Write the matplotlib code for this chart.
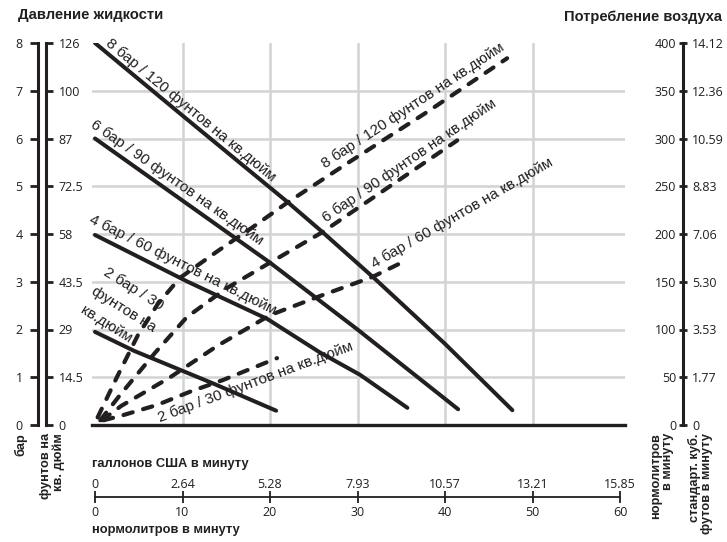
import numpy as np
import matplotlib
matplotlib.use('Agg')
import matplotlib.pyplot as plt
from matplotlib import font_manager as fm

# ---- data -------------------------------------------------------------
# fluid pressure (bar) vs flow (l/min), solid lines
x_p8 = [0, 10, 22, 26, 32, 40, 47.7]
p8 = [8, 6.48, 4.67, 4.04, 3.06, 1.7, 0.31]
x_p6 = [0, 10, 20, 30, 41.5]
p6 = [6, 4.7, 3.4, 2.0, 0.33]
x_p4 = [0, 10.6, 19.7, 25.7, 30.3, 35.7]
p4 = [3.98, 3.0, 2.22, 1.52, 1.05, 0.36]
x_p2 = [0, 4.5, 13.5, 20.7]
p2 = [1.95, 1.55, 0.87, 0.3]

# air consumption (Nl/min) vs flow (l/min), dashed lines
x_a8 = [0.3, 2.5, 4.9, 7.2, 9.7, 14, 18, 22, 29, 38, 47.1]
a8 = [8, 50, 94, 127, 154, 182, 207, 233, 275, 328, 384]
x_a6 = [0.6, 3, 6.9, 10.5, 15, 20, 26, 33.7, 41.4]
a6 = [5, 33, 76, 113, 143, 170, 202, 250, 298]
x_a4 = [0.8, 3, 8.6, 14, 20, 26, 31.7, 35.7]
a4 = [5, 20, 50, 83, 115, 136, 155, 173]
x_a2 = [1, 3.1, 7.1, 10.9, 14.6, 20.8]
a2 = [5, 10, 21, 35, 47, 70]

bar_ticks = [0, 1, 2, 3, 4, 5, 6, 7, 8]
psi_labels = ['0', '14.5', '29', '43.5', '58', '72.5', '87', '100', '126']
nl_ticks = [0, 50, 100, 150, 200, 250, 300, 350, 400]
cfm_labels = ['0', '1.77', '3.53', '5.30', '7.06', '8.83', '10.59', '12.36', '14.12']
lpm_ticks = [0, 10, 20, 30, 40, 50, 60]
gpm_labels = ['0', '2.64', '5.28', '7.93', '10.57', '13.21', '15.85']

# ---- style ------------------------------------------------------------
names = {f.name for f in fm.fontManager.ttflist}
NARROW = 'Liberation Sans Narrow' if 'Liberation Sans Narrow' in names else 'Liberation Sans'
NUM = 'Open Sans' if 'Open Sans' in names else 'DejaVu Sans'
INK = '#231f20'
GRID = '#d1d3d4'

W, H = 727, 542
fig = plt.figure(figsize=(W / 100, H / 100), dpi=100)
fig.patch.set_facecolor('white')


def rect(x0, y0, x1, y1):
    return [x0 / W, 1 - y1 / H, (x1 - x0) / W, (y1 - y0) / H]


# main plotting area: 0..60 l/min -> 95..620 px, 0..8 bar -> 425..43 px
ax = fig.add_axes(rect(95 - 0.3 * 8.75, 43, 620 + 0.6 * 8.75, 425))
ax.set_xlim(-0.3, 60.6)
ax.set_ylim(0, 8)
ax.patch.set_visible(False)
for s in ['top', 'left', 'right']:
    ax.spines[s].set_visible(False)
ax.spines['bottom'].set_linewidth(2.4)
ax.spines['bottom'].set_color(INK)
ax.set_xticks([])
ax.set_yticks([])
for v in lpm_ticks[1:-1]:
    ax.axvline(v, color=GRID, lw=1.8, zorder=0)
for h in bar_ticks[1:-1]:
    ax.axhline(h, color=GRID, lw=1.8, zorder=0)

for xs, ys in [(x_p8, p8), (x_p6, p6), (x_p4, p4), (x_p2, p2)]:
    ax.plot(xs, ys, color=INK, lw=2.9, solid_capstyle='round', zorder=3)

ax_air = ax.twinx()
ax_air.set_ylim(0, 400)
ax_air.axis('off')
for xs, ys in [(x_a8, a8), (x_a6, a6), (x_a4, a4), (x_a2, a2)]:
    ax_air.plot(xs, ys, color=INK, lw=3, linestyle=(0, (2.3, 2.6)),
                dash_capstyle='round', zorder=3)

lab = dict(fontsize=11, family='Liberation Sans', color=INK,
           rotation_mode='anchor', ha='left', va='baseline', zorder=4)
ax.text(1.14, 7.96, '8 бар / 120 фунтов на кв.дюйм', rotation=-39.5, **lab)
ax.text(-0.57, 6.26, '6 бар / 90 фунтов на кв.дюйм', rotation=-35, **lab)
ax.text(-0.8, 4.25, '4 бар / 60 фунтов на кв.дюйм', rotation=-26.5, **lab)
# multi-line: anchor is the baseline of the last line
ax.text(-1.3, 2.5, '2 бар / 30\nфунтов на\nкв.дюйм', rotation=-32,
        linespacing=1.75, **lab)
ax.text(26.3, 5.38, '8 бар / 120 фунтов на кв.дюйм', rotation=33.5, **lab)
ax.text(26.4, 4.23, '6 бар / 90 фунтов на кв.дюйм', rotation=34.4, **lab)
ax.text(31.9, 3.29, '4 бар / 60 фунтов на кв.дюйм', rotation=30, **lab)
ax.text(7.43, 0.06, '2 бар / 30 фунтов на кв.дюйм', rotation=20.5, **lab)


def bare(a):
    a.patch.set_visible(False)
    for s in a.spines.values():
        s.set_visible(False)
    a.set_xticks([])


tick_font = dict(fontsize=9, family=NUM, color=INK)

# left scales
ax_bar = fig.add_axes(rect(38, 43, 39, 425))
bare(ax_bar)
ax_bar.set_ylim(0, 8)
ax_bar.spines['left'].set_visible(True)
ax_bar.spines['left'].set_linewidth(2.2)
ax_bar.spines['left'].set_color(INK)
ax_bar.set_yticks(bar_ticks, [str(t) for t in bar_ticks], **tick_font)
ax_bar.tick_params(axis='y', direction='out', length=6, width=2, color=INK, pad=5)

ax_psi = fig.add_axes(rect(45, 43, 46, 425))
bare(ax_psi)
ax_psi.set_ylim(0, 8)
ax_psi.spines['right'].set_visible(True)
ax_psi.spines['right'].set_linewidth(2.2)
ax_psi.spines['right'].set_color(INK)
ax_psi.yaxis.tick_right()
ax_psi.set_yticks(bar_ticks, psi_labels, **tick_font)
ax_psi.tick_params(axis='y', direction='out', length=5, width=2, color=INK, pad=4)

# right scales
ax_nl = fig.add_axes(rect(683, 43, 684, 425))
bare(ax_nl)
ax_nl.set_ylim(0, 400)
ax_nl.spines['left'].set_visible(True)
ax_nl.spines['left'].set_linewidth(2.2)
ax_nl.spines['left'].set_color(INK)
ax_nl.set_yticks(nl_ticks, [str(t) for t in nl_ticks], **tick_font)
ax_nl.tick_params(axis='y', direction='inout', length=6, width=2, color=INK, pad=2)

ax_cfm = ax_nl.twinx()
bare(ax_cfm)
ax_cfm.set_ylim(0, 400)
ax_cfm.set_yticks(nl_ticks, cfm_labels, **tick_font)
ax_cfm.tick_params(axis='y', length=0, pad=6)

# bottom scales
ax_x = fig.add_axes(rect(95, 496, 620, 497))
ax_x.patch.set_visible(False)
for s in ['top', 'left', 'right']:
    ax_x.spines[s].set_visible(False)
ax_x.spines['bottom'].set_linewidth(1.3)
ax_x.spines['bottom'].set_color(INK)
ax_x.set_yticks([])
ax_x.set_xlim(0, 60)
ax_x.set_xticks(lpm_ticks, [str(t) for t in lpm_ticks], **tick_font)
ax_x.tick_params(axis='x', direction='inout', length=9, width=1.3, color=INK, pad=2)
sec = ax_x.secondary_xaxis('top')
sec.spines['top'].set_visible(False)
sec.set_xticks(lpm_ticks, gpm_labels, **tick_font)
sec.tick_params(axis='x', length=0, pad=3.5)

# titles and axis names
head = dict(family=NARROW, fontweight='bold', color=INK)
fig.text(18 / W, 1 - 15 / H, 'Давление жидкости', fontsize=10.7, ha='left', va='center', **head)
fig.text(722 / W, 1 - 17.5 / H, 'Потребление воздуха', fontsize=10.5, ha='right', va='center', **head)
fig.text(92 / W, 1 - 463.5 / H, 'галлонов США в минуту', fontsize=9.3, ha='left', va='center', **head)
fig.text(92 / W, 1 - 530 / H, 'нормолитров в минуту', fontsize=9.3, ha='left', va='center', **head)

rot = dict(rotation=90, rotation_mode='anchor', ha='right', va='center',
           multialignment='right', fontsize=9.2, linespacing=1.0, **head)
fig.text(21 / W, 1 - 433 / H, 'бар', **rot)
fig.text(52.5 / W, 1 - 433 / H, 'фунтов на\nкв. дюйм', **rot)
fig.text(662.5 / W, 1 - 433 / H, 'нормолитров\nв минуту', **rot)
fig.text(700.5 / W, 1 - 433 / H, 'стандарт. куб.\nфутов в минуту', **rot)

fig.savefig('out.png', dpi=100)
